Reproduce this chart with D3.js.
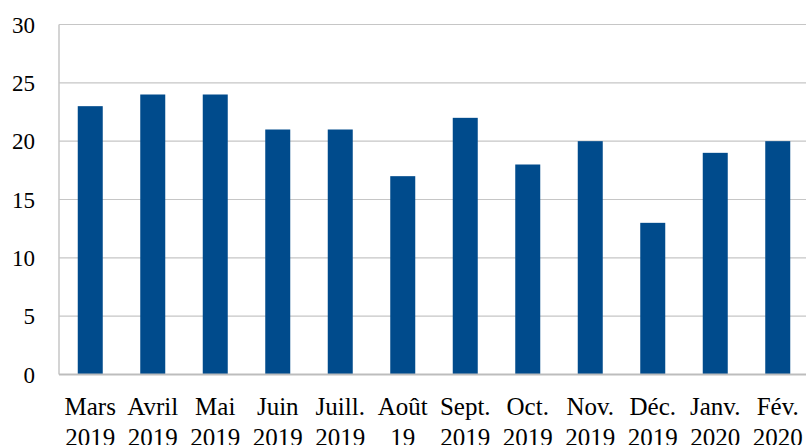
<!DOCTYPE html>
<html>
<head>
<meta charset="utf-8">
<script src="https://cdn.jsdelivr.net/npm/d3@7"></script>
<style>
  body { margin: 0; background: #fff; }
</style>
</head>
<body>
<div id="chart"></div>
<script>
const months = ["Mars", "Avril", "Mai", "Juin", "Juill.", "Août", "Sept.", "Oct.", "Nov.", "Déc.", "Janv.", "Fév."];
const years = ["2019", "2019", "2019", "2019", "2019", "19", "2019", "2019", "2019", "2019", "2020", "2020"];
const values = [23, 24, 24, 21, 21, 17, 22, 18, 20, 13, 19, 20];
const yTicks = [0, 5, 10, 15, 20, 25, 30];

const W = 806, H = 445;
const margin = { top: 24.5, right: -3, bottom: 70.5, left: 59 };
const serif = "'Liberation Serif', 'DejaVu Serif', 'Times New Roman', serif";

const svg = d3.select("#chart")
  .append("svg")
    .attr("width", W)
    .attr("height", H)
    .attr("font-family", serif);

const x = d3.scaleBand()
  .domain(d3.range(values.length))
  .range([margin.left, W - margin.right])
  .paddingInner(0.6)
  .paddingOuter(0.3);

const y = d3.scaleLinear()
  .domain([0, 30])
  .range([H - margin.bottom, margin.top]);

// gridlines
svg.append("g")
  .selectAll("line")
  .data(yTicks.filter(d => d > 0))
  .enter()
  .append("line")
    .attr("x1", margin.left)
    .attr("x2", W)
    .attr("y1", d => y(d))
    .attr("y2", d => y(d))
    .attr("stroke", "#c6c6c6")
    .attr("stroke-width", 1.2);

// left border
svg.append("line")
  .attr("x1", margin.left)
  .attr("x2", margin.left)
  .attr("y1", y(30))
  .attr("y2", y(0))
  .attr("stroke", "#c6c6c6")
  .attr("stroke-width", 1.5);

// bars
svg.append("g")
  .selectAll("rect")
  .data(values)
  .enter()
  .append("rect")
    .attr("x", (d, i) => x(i))
    .attr("y", d => y(d))
    .attr("width", x.bandwidth())
    .attr("height", d => y(0) - y(d))
    .style("fill", "#004b8c");

// baseline
svg.append("line")
  .attr("x1", margin.left)
  .attr("x2", W)
  .attr("y1", y(0))
  .attr("y2", y(0))
  .attr("stroke", "#bdbdbd")
  .attr("stroke-width", 2);

// y labels
svg.append("g")
  .selectAll("text")
  .data(yTicks)
  .enter()
  .append("text")
    .attr("x", 35)
    .attr("y", d => y(d))
    .attr("dy", "0.35em")
    .attr("text-anchor", "end")
    .attr("font-family", serif)
    .attr("font-size", 23)
    .attr("fill", "#000")
    .text(d => d);

// x labels
const xl = svg.append("g")
  .selectAll("text")
  .data(months)
  .enter()
  .append("text")
    .attr("text-anchor", "middle")
    .attr("font-family", serif)
    .attr("font-size", 25)
    .attr("fill", "#000");

xl.append("tspan")
  .attr("x", (d, i) => x(i) + x.bandwidth() / 2)
  .attr("y", 415)
  .text(d => d);

xl.append("tspan")
  .attr("x", (d, i) => x(i) + x.bandwidth() / 2)
  .attr("y", 446)
  .text((d, i) => years[i]);
</script>
</body>
</html>
